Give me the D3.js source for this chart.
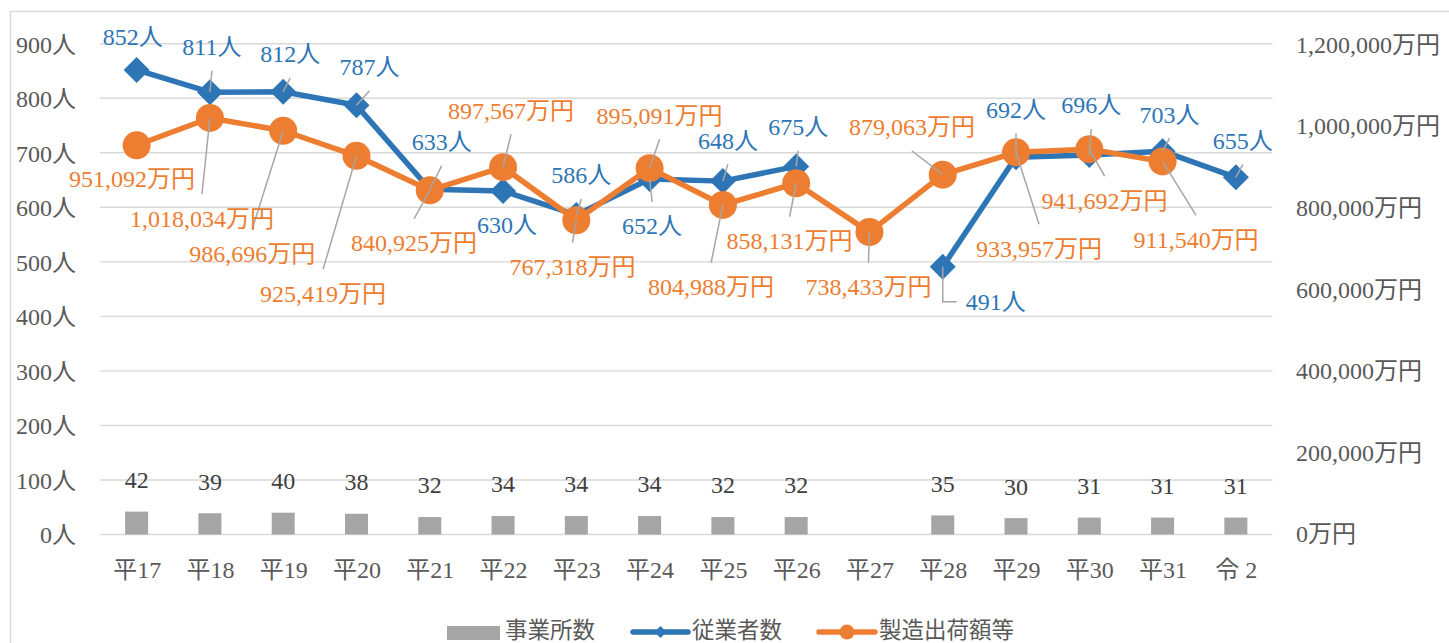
<!DOCTYPE html>
<html>
<head>
<meta charset="utf-8">
<script src="https://cdn.jsdelivr.net/npm/d3@7"></script>
<style>
  html, body { margin: 0; padding: 0; background: #fff; }
  svg { display: block; }
  text { font-family: "Liberation Serif", "DejaVu Serif", "Noto Sans CJK JP", serif; }
</style>
</head>
<body>
<svg id="chart" width="1449" height="643"></svg>
<script>
// ---- data ----
const categories = ["平17","平18","平19","平20","平21","平22","平23","平24","平25","平26","平27","平28","平29","平30","平31","令 2"];
const establishments = [42,39,40,38,32,34,34,34,32,32,null,35,30,31,31,31];          // 事業所数
const employees = [852,811,812,787,633,630,586,652,648,675,null,491,692,696,703,655];   // 従業者数
const shipments = [951092,1018034,986696,925419,840925,897567,767318,895091,804988,858131,738433,879063,933957,941692,911540,null]; // 製造出荷額等 (万円)
const leftTicks = [0,100,200,300,400,500,600,700,800,900];
const rightTicks = [0,200000,400000,600000,800000,1000000,1200000];
const seriesNames = ["事業所数","従業者数","製造出荷額等"];

// ---- label layout (offsets of label centre from point, px) ----
const empLabelOff = [[-4,-33,0],[2,-45.5,1],[7,-37.7,1],[13,-38.6,1],[12,-47.6,1],[4,34,0],[5,-40,1],[2.5,47,1],[5,-41,1],[2,-39.7,1],null,[53,35,2],[0,-47.8,1],[2,-50,1],[7,-37,1],[7,-37,1]];
const shipLabelOff = [[-4.6,33,0],[-8,100.3,1],[-31,122.5,1],[-33.4,137.5,1],[-15.7,52.7,1],[8,-57,1],[-3.8,46.4,1],[10,-53,1],[-11.8,81.8,1],[-6.6,57.5,1],[-1,54.6,1],[-30.7,-47.7,1],[23,96,1],[15.3,51,1],[33.5,78,1],null];

const BLUE = "#2E75B6", ORANGE = "#ED7D31", BAR = "#A5A5A5", GRID = "#D9D9D9", AXIS_TXT = "#595959", LEADER = "#A6A6A6";
const FS = 24;

const svg = d3.select("#chart");

// outer frame
svg.append("rect").attr("x", 10.5).attr("y", 11.5).attr("width", 1500).attr("height", 700)
  .attr("fill", "none").attr("stroke", GRID).attr("stroke-width", 1.3);

const x = d3.scalePoint().domain(categories).range([100, 1272.5]).padding(0.5);
const step = x.step();
const yL = d3.scaleLinear().domain([0, 900]).range([534.5, 43.7]);
const yR = d3.scaleLinear().domain([0, 1200000]).range([533.5, 43.7]);

// gridlines
svg.append("g").selectAll("line").data(leftTicks).join("line")
  .attr("x1", 100).attr("x2", 1272.5)
  .attr("y1", d => yL(d)).attr("y2", d => yL(d))
  .attr("stroke", GRID).attr("stroke-width", 1.4);

// left axis
const leftAxis = d3.axisLeft(yL).tickValues(leftTicks).tickSize(0).tickPadding(0).tickFormat(d => d + "人");
const gl = svg.append("g").attr("transform", "translate(76,0)").call(leftAxis);
gl.select(".domain").remove();
gl.selectAll("text").attr("font-size", FS).attr("fill", AXIS_TXT).attr("font-family", null).attr("dy", "0.35em");

// right axis
const fmt = d3.format(",");
const rightAxis = d3.axisRight(yR).tickValues(rightTicks).tickSize(0).tickPadding(0).tickFormat(d => fmt(d) + "万円");
const gr = svg.append("g").attr("transform", "translate(1296,0)").call(rightAxis);
gr.select(".domain").remove();
gr.selectAll("text").attr("font-size", FS).attr("fill", AXIS_TXT).attr("font-family", null).attr("dy", "0.35em");

// bottom axis
const bottomAxis = d3.axisBottom(x).tickSize(0).tickPadding(0);
const gb = svg.append("g").attr("transform", "translate(0,570)").call(bottomAxis);
gb.select(".domain").remove();
gb.selectAll("text").attr("font-size", FS).attr("fill", AXIS_TXT).attr("font-family", null).attr("dy", "0.35em");

// bars
const barW = step * 0.314;
const barData = categories.map((c, i) => ({c, v: establishments[i]})).filter(d => d.v != null);
svg.append("g").selectAll("rect").data(barData).join("rect")
  .attr("x", d => x(d.c) - barW / 2).attr("width", barW)
  .attr("y", d => yL(d.v)).attr("height", d => yL(0) - yL(d.v))
  .attr("fill", BAR);
svg.append("g").selectAll("text").data(barData).join("text")
  .attr("x", d => x(d.c)).attr("y", d => yL(d.v) - 32).attr("dy", "0.35em")
  .attr("text-anchor", "middle").attr("font-size", FS).attr("fill", "#404040")
  .text(d => d.v);

// employees line
const empData = categories.map((c, i) => ({c, v: employees[i], off: empLabelOff[i]}));
const lineL = d3.line().defined(d => d.v != null).x(d => x(d.c)).y(d => yL(d.v));
svg.append("path").datum(empData).attr("d", lineL)
  .attr("fill", "none").attr("stroke", BLUE).attr("stroke-width", 5.5).attr("stroke-linejoin", "round");
const diamond = "M0,-13L13,0L0,13L-13,0Z";
svg.append("g").selectAll("path").data(empData.filter(d => d.v != null)).join("path")
  .attr("d", diamond).attr("transform", d => `translate(${x(d.c)},${yL(d.v)})`).attr("fill", BLUE);

// shipments line
const shipData = categories.map((c, i) => ({c, v: shipments[i], off: shipLabelOff[i]}));
const lineR = d3.line().defined(d => d.v != null).x(d => x(d.c)).y(d => yR(d.v));
svg.append("path").datum(shipData).attr("d", lineR)
  .attr("fill", "none").attr("stroke", ORANGE).attr("stroke-width", 5.5).attr("stroke-linejoin", "round");
svg.append("g").selectAll("circle").data(shipData.filter(d => d.v != null)).join("circle")
  .attr("cx", d => x(d.c)).attr("cy", d => yR(d.v)).attr("r", 14).attr("fill", ORANGE);

// labels + leaders
function drawLabels(data, yScale, color, textFn) {
  const g = svg.append("g");
  const items = data.filter(d => d.v != null && d.off);
  items.forEach(d => {
    const px = x(d.c), py = yScale(d.v);
    const cx = px + d.off[0], cy = py + d.off[1];
    const type = d.off[2];
    const t = g.append("text").attr("x", cx).attr("y", cy).attr("dy", "0.35em")
      .attr("text-anchor", "middle").attr("font-size", FS).attr("fill", color).text(textFn(d.v));
    if (type === 1) {
      const sign = cy < py ? 1 : -1;
      g.insert("line", "text").attr("x1", px).attr("y1", py).attr("x2", cx).attr("y2", cy + sign * 24)
        .attr("stroke", LEADER).attr("stroke-width", 1.5);
    } else if (type === 2) {
      const w = t.node().getComputedTextLength();
      g.insert("path", "text").attr("d", `M${px},${py}V${cy}H${cx - w / 2 - 9}`)
        .attr("fill", "none").attr("stroke", LEADER).attr("stroke-width", 1.5);
    }
  });
}
drawLabels(empData, yL, BLUE, v => v + "人");
drawLabels(shipData, yR, ORANGE, v => fmt(v) + "万円");

// legend
const LFS = 22.5;
const lg = svg.append("g").attr("transform", "translate(0,630)");
lg.append("rect").attr("x", 447).attr("y", -4).attr("width", 53).attr("height", 14).attr("fill", BAR);
lg.append("text").attr("x", 505).attr("dy", "0.35em").attr("font-size", LFS).attr("fill", AXIS_TXT).text(seriesNames[0]);
lg.append("line").attr("x1", 633).attr("x2", 688).attr("y1", 2).attr("y2", 2).attr("stroke", BLUE).attr("stroke-width", 5.5).attr("stroke-linecap", "round");
lg.append("path").attr("d", "M0,-6L6,0L0,6L-6,0Z").attr("transform", "translate(660.5,2)").attr("fill", BLUE);
lg.append("text").attr("x", 692).attr("dy", "0.35em").attr("font-size", LFS).attr("fill", AXIS_TXT).text(seriesNames[1]);
lg.append("line").attr("x1", 819).attr("x2", 875).attr("y1", 2).attr("y2", 2).attr("stroke", ORANGE).attr("stroke-width", 5.5).attr("stroke-linecap", "round");
lg.append("circle").attr("cx", 847).attr("cy", 2).attr("r", 7.5).attr("fill", ORANGE);
lg.append("text").attr("x", 879).attr("dy", "0.35em").attr("font-size", LFS).attr("fill", AXIS_TXT).text(seriesNames[2]);
</script>
</body>
</html>
